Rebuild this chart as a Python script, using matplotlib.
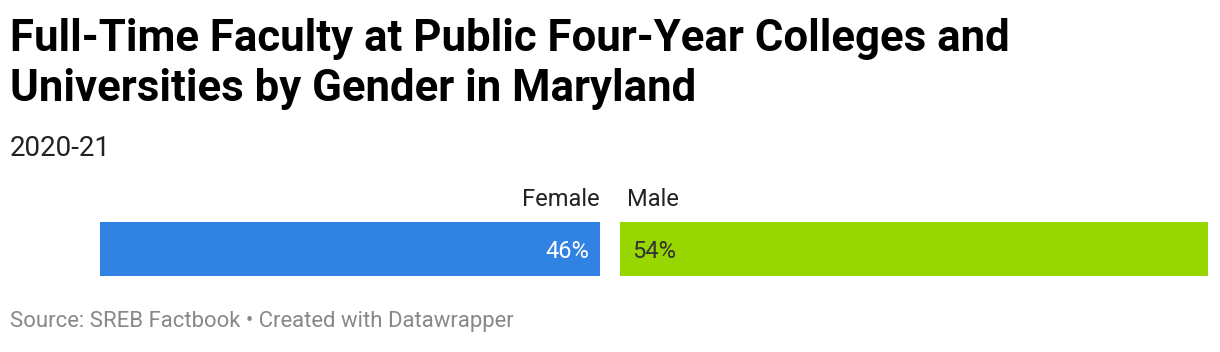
import matplotlib
matplotlib.use("Agg")
import matplotlib.pyplot as plt

# data
categories = ["Female", "Male"]
shares = [46, 54]
value_labels = ["46%", "54%"]
bar_colors = ["#3083e3", "#98d600"]
text_colors = ["#ffffff", "#333333"]

title_lines = ["Full-Time Faculty at Public Four-Year Colleges and",
               "Universities by Gender in Maryland"]
subtitle = "2020-21"
source = "Source: SREB Factbook \u2022 Created with Datawrapper"

plt.rcParams['font.family'] = ['Roboto', 'DejaVu Sans']

W, H = 1220, 352
fig = plt.figure(figsize=(W / 100, H / 100), dpi=100)


def fy(y):
    return 1 - y / H


# title / subtitle
fig.text(10 / W, fy(51), title_lines[0], fontsize=31.5, fontweight='bold',
         color='#000000', va='baseline', ha='left')
fig.text(10 / W, fy(101), title_lines[1], fontsize=31.5, fontweight='bold',
         color='#000000', va='baseline', ha='left')
fig.text(10 / W, fy(156), subtitle, fontsize=20, color='#222222',
         va='baseline', ha='left')

# stacked (split) bar
ax = fig.add_axes([100 / W, fy(276), 1108 / W, 54 / H])
px_per_unit = 1088 / sum(shares)
gap = 20 / px_per_unit

left = 0
for i, (cat, val) in enumerate(zip(categories, shares)):
    ax.barh(0, val, left=left, height=1, color=bar_colors[i])
    if i == 0:
        ax.annotate(cat, xy=(left + val, 1), xycoords=('data', 'axes fraction'),
                    xytext=(-1, 16), textcoords='offset pixels',
                    ha='right', va='baseline', fontsize=17, color='#222222')
        ax.annotate(value_labels[i], xy=(left + val, 0), xycoords='data',
                    xytext=(-11, -9), textcoords='offset pixels',
                    ha='right', va='baseline', fontsize=17, color=text_colors[i])
    else:
        ax.annotate(cat, xy=(left, 1), xycoords=('data', 'axes fraction'),
                    xytext=(7, 16), textcoords='offset pixels',
                    ha='left', va='baseline', fontsize=17, color='#222222')
        ax.annotate(value_labels[i], xy=(left, 0), xycoords='data',
                    xytext=(12, -9), textcoords='offset pixels',
                    ha='left', va='baseline', fontsize=17, color=text_colors[i])
    left += val + gap

ax.set_xlim(0, sum(shares) + gap)
ax.set_ylim(-0.5, 0.5)
ax.axis('off')

fig.text(10 / W, fy(327), source, fontsize=15.9, color='#888888',
         va='baseline', ha='left')

fig.savefig("out.png", dpi=100, facecolor='white')
